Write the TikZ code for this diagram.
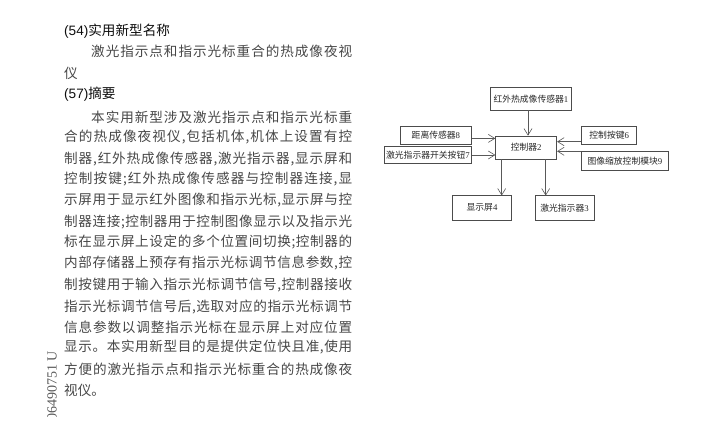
\documentclass[tikz,border=0pt]{standalone}
\usepackage{fontspec}
\usetikzlibrary{arrows.meta}
\setmainfont{Noto Sans CJK SC}
\newfontfamily\latf{Liberation Serif}
\newfontfamily\lats{Liberation Sans}
\let\endspread\relax
\def\spreadfirst#1{#1\spreadrest}
\def\spreadrest#1{\ifx#1\endspread\else\hskip 0pt plus 1fil #1\expandafter\spreadrest\fi}
\newcommand{\bodyline}[1]{\hbox to 288pt{\spreadfirst#1\endspread}}
\newcommand{\indentline}[1]{\hbox to 261pt{\spreadfirst#1\endspread}}
\tikzset{
  x=1pt,y=-1pt,
  bodytext/.style={anchor=west,inner sep=0pt,text=black!72,font=\fontsize{13.6}{14}\selectfont},
  headtext/.style={anchor=west,inner sep=0pt,text=black!95,font=\fontsize{13.6}{14}\selectfont},
  blockbox/.style={draw=black!70,line width=0.7pt,inner sep=0pt,text=black!85,font=\fontsize{8.8}{10}\selectfont},
  conn/.style={draw=black!65,line width=0.8pt,-{Straight Barb[length=6.5pt,width=8pt,line width=0.6pt]}},
  connbold/.style={conn,line width=1.1pt}
}
\begin{document}
\begin{tikzpicture}
\useasboundingbox (0,0) rectangle (726,433);
% text column
\node[headtext] (h54) at (64,31) {{\lats (54)}实用新型名称};
\node[bodytext] (t1) at (91,51) {\indentline{激光指示点和指示光标重合的热成像夜视}};
\node[bodytext] (t2) at (64,73) {仪};
\node[headtext] (h57) at (64,94) {{\lats (57)}摘要};
\node[bodytext] (b1) at (91,117) {\indentline{本实用新型涉及激光指示点和指示光标重}};
\node[bodytext] (b2) at (64,137) {\bodyline{合的热成像夜视仪,包括机体,机体上设置有控}};
\node[bodytext] (b3) at (64,159) {\bodyline{制器,红外热成像传感器,激光指示器,显示屏和}};
\node[bodytext] (b4) at (64,179) {\bodyline{控制按键;红外热成像传感器与控制器连接,显}};
\node[bodytext] (b5) at (64,200) {\bodyline{示屏用于显示红外图像和指示光标,显示屏与控}};
\node[bodytext] (b6) at (64,222) {\bodyline{制器连接;控制器用于控制图像显示以及指示光}};
\node[bodytext] (b7) at (64,242) {\bodyline{标在显示屏上设定的多个位置间切换;控制器的}};
\node[bodytext] (b8) at (64,263) {\bodyline{内部存储器上预存有指示光标调节信息参数,控}};
\node[bodytext] (b9) at (64,285) {\bodyline{制按键用于输入指示光标调节信号,控制器接收}};
\node[bodytext] (b10) at (64,307) {\bodyline{指示光标调节信号后,选取对应的指示光标调节}};
\node[bodytext] (b11) at (64,327) {\bodyline{信息参数以调整指示光标在显示屏上对应位置}};
\node[bodytext] (b12) at (64,347) {\bodyline{显示。本实用新型目的是提供定位快且准,使用}};
\node[bodytext] (b13) at (64,369) {\bodyline{方便的激光指示点和指示光标重合的热成像夜}};
\node[bodytext] (b14) at (64,390) {\hbox to 31pt{\spreadfirst 视仪。\endspread}};
% side number, cut off at its lower end
\begin{scope}
\clip (40,340) rectangle (62,416);
\node[rotate=90,anchor=west,inner sep=0pt,text=black!65,font=\latf\fontsize{14}{15}\selectfont] (num) at (52,421) {06490751 U};
\end{scope}
% block diagram
\node[blockbox,minimum width=80.3pt,minimum height=22.7pt] (ir) at (530.9,98.7) {红外热成像传感器{\latf 1}};
\node[blockbox,minimum width=71.7pt,minimum height=17.3pt] (dist) at (435.9,135.4) {距离传感器{\latf 8}};
\node[blockbox,minimum width=87.7pt,minimum height=16.6pt] (sw) at (427.9,155) {激光指示器开关按钮{\latf 7}};
\node[blockbox,minimum width=61pt,minimum height=23pt] (ctrl) at (526.2,147.5) {控制器{\latf 2}};
\node[blockbox,minimum width=55pt,minimum height=18pt] (key) at (609.2,135) {控制按键{\latf 6}};
\node[blockbox,minimum width=86.3pt,minimum height=18.3pt] (zoomm) at (624.9,160.8) {图像缩放控制模块{\latf 9}};
\node[blockbox,minimum width=59.4pt,minimum height=24.3pt] (disp) at (482,207.8) {显示屏{\latf 4}};
\node[blockbox,minimum width=59pt,minimum height=24.3pt] (laser) at (564.5,207.8) {激光指示器{\latf 3}};
\path[conn] ([xshift=-2.9pt]ir.south) -- ([xshift=-2.9pt]ir.south |- ctrl.north);
\path[conn] ([yshift=-3pt]dist.east) -- ([yshift=-3pt]dist.east -| ctrl.west);
\path[conn] (sw.east) -- (sw.east -| ctrl.west);
\path[conn] (key.west |- 0,141.7) -- (ctrl.east |- 0,141.7);
\path[conn] (zoomm.north west) -- (zoomm.north west -| ctrl.east);
\path[conn] (ctrl.south -| disp.north) ++(19.7,0) -- ++(0,36.2);
\path[connbold] (ctrl.south -| laser.north) ++(-18.8,0) -- ++(0,36.2);
\end{tikzpicture}
\end{document}
